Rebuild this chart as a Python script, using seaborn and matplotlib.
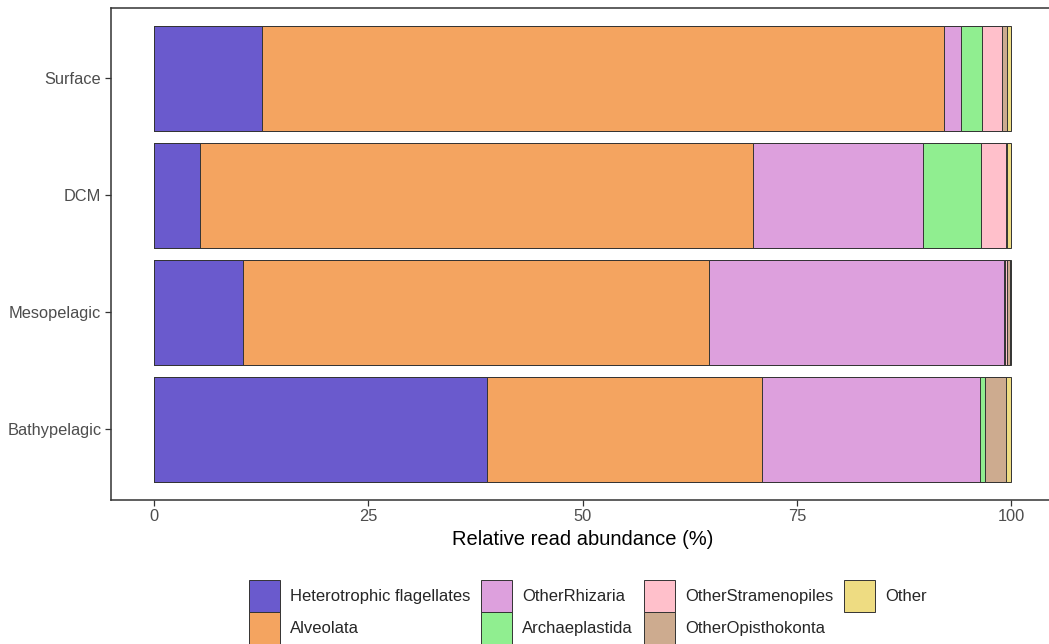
import numpy as np
import pandas as pd
import matplotlib
matplotlib.use("Agg")
import matplotlib.pyplot as plt
from matplotlib.patches import Patch
import seaborn as sns

# Depth layers (top to bottom) and taxonomic groups in stacking order
depths = ["Surface", "DCM", "Mesopelagic", "Bathypelagic"]
groups = ["Heterotrophic flagellates", "Alveolata", "OtherRhizaria",
          "Archaeplastida", "OtherStramenopiles", "OtherOpisthokonta", "Other"]

# Relative read abundance (%) per group, one value per depth layer
heterotrophic_flagellates = [12.6, 5.4, 10.4, 38.9]
alveolata = [79.6, 64.5, 54.4, 32.0]
other_rhizaria = [2.0, 19.8, 34.4, 25.5]
archaeplastida = [2.4, 6.8, 0.1, 0.5]
other_stramenopiles = [2.35, 2.95, 0.2, 0.1]
other_opisthokonta = [0.55, 0.05, 0.4, 2.4]
other = [0.5, 0.5, 0.1, 0.6]

colors = ["#6A5ACD", "#F4A460", "#DDA0DD", "#90EE90",
          "#FFC0CB", "#CDAB8F", "#EEDC82"]

values = [heterotrophic_flagellates, alveolata, other_rhizaria, archaeplastida,
          other_stramenopiles, other_opisthokonta, other]

df = pd.DataFrame({g: v for g, v in zip(groups, values)}, index=depths)
cum = df.cumsum(axis=1)

sns.set_theme(style="white")
plt.rcParams["font.family"] = ["Liberation Sans", "DejaVu Sans"]

fig = plt.figure(figsize=(10.49, 6.44), dpi=100)
ax = fig.add_axes([111 / 1049, 1 - 499.5 / 644, (1054 - 111) / 1049, (499.5 - 8) / 644])

edge = "#333333"
# Stacked bars: draw cumulative totals from the outermost group inwards
for g, c in reversed(list(zip(groups, colors))):
    plot_df = pd.DataFrame({"depth": depths, "value": cum[g].values})
    sns.barplot(data=plot_df, x="value", y="depth", order=depths, orient="h",
                color=c, edgecolor=edge, linewidth=0.7, width=0.9,
                saturation=1, ax=ax, errorbar=None)

ax.set_xlim(-5, 105)
ax.set_ylim(3.6, -0.6)
ax.set_xticks([0, 25, 50, 75, 100])
ax.set_xticklabels(["0", "25", "50", "75", "100"])
ax.set_ylabel("")
ax.set_xlabel("Relative read abundance (%)", fontsize=14.5, color="black", labelpad=4.5)

for s in ax.spines.values():
    s.set_visible(True)
    s.set_color("#333333")
    s.set_linewidth(1.1)

ax.tick_params(axis="both", which="major", length=4, width=0.9, color="#333333",
               labelsize=11.8, labelcolor="#4D4D4D", pad=3,
               bottom=True, left=True)
ax.grid(False)

handles = [Patch(facecolor=c, edgecolor=edge, linewidth=0.7) for c in colors]
fig.legend(handles, groups, loc="upper left",
           bbox_to_anchor=(249 / 1049, 1 - 580 / 644), ncol=4, frameon=False,
           fontsize=12, handlelength=1.86, handleheight=2.58, labelspacing=0.0,
           handletextpad=0.6, columnspacing=0.65, borderpad=0, borderaxespad=0)

fig.savefig("out.png", dpi=100)
